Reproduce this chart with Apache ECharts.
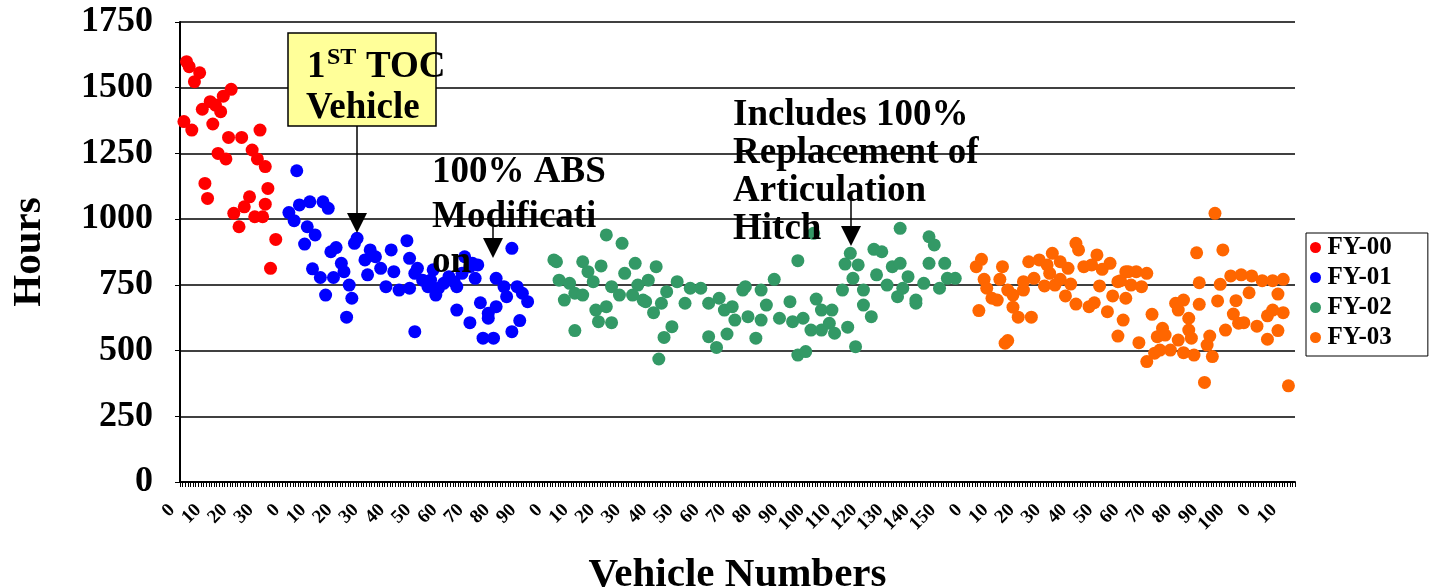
<!DOCTYPE html>
<html>
<head>
<meta charset="utf-8">
<script src="https://cdn.jsdelivr.net/npm/echarts@6/dist/echarts.min.js"></script>
<style>
html,body{margin:0;padding:0;background:#fff;}
#chart{width:1432px;height:588px;}
</style>
</head>
<body>
<div id="chart"></div>
<script>
// Vehicles per label block on the x axis (labels restart at 0 in each block)
const categoryGroups = [40, 100, 160, 110, 15];
const labelEvery = 10;
const seriesNames = ['FY-00', 'FY-01', 'FY-02', 'FY-03'];
const seriesColors = ['#FF0000', '#0000FF', '#339966', '#FF6600'];
const yMin = 0, yMax = 1750, yStep = 250;

// [category position, hours]
const fy00 = [[1,1371],[2,1599],[3,1580],[4,1339],[5,1523],[7,1557],[8,1418],[9,1136],[10,1079],[11,1447],[12,1362],[13,1434],[14,1250],[15,1409],[16,1468],[17,1229],[18,1311],[19,1494],[20,1022],[22,971],[23,1311],[24,1047],[26,1085],[27,1263],[28,1009],[29,1229],[30,1339],[31,1009],[32,1057],[32,1200],[33,1117],[34,813],[36,923]];

const fy01 = [[41,1025],[43,994],[44,1184],[45,1054],[47,905],[48,971],[49,1066],[50,811],[51,940],[53,778],[54,1066],[55,711],[56,1041],[57,876],[58,778],[59,892],[61,832],[62,800],[63,627],[64,749],[65,699],[66,908],[67,927],[70,845],[71,788],[72,883],[74,857],[76,813],[78,743],[80,883],[81,800],[83,730],[86,918],[87,737],[87,851],[89,572],[89,794],[90,813],[92,768],[94,743],[95,768],[96,807],[97,711],[98,737],[100,756],[102,781],[104,762],[105,743],[105,654],[107,794],[108,857],[110,819],[110,606],[111,832],[112,775],[113,826],[114,682],[115,547],[117,642],[117,623],[119,547],[120,667],[120,775],[123,743],[124,705],[126,572],[126,889],[128,743],[129,614],[130,718],[132,686]];

const fy02 = [[142,845],[143,838],[144,768],[146,692],[148,756],[150,576],[150,718],[153,711],[153,838],[155,800],[157,762],[158,654],[159,610],[160,822],[162,667],[162,940],[164,606],[164,743],[167,711],[168,908],[169,794],[172,711],[173,832],[174,749],[176,692],[177,686],[178,768],[180,644],[181,819],[182,468],[183,680],[184,550],[185,724],[187,591],[189,762],[192,680],[194,737],[198,737],[201,680],[201,553],[204,512],[205,699],[207,654],[208,563],[210,667],[211,616],[214,730],[215,743],[216,629],[219,547],[221,730],[221,616],[223,673],[226,771],[228,623],[232,686],[233,610],[235,842],[235,483],[237,623],[238,496],[240,578],[241,946],[242,696],[244,578],[244,654],[247,604],[248,654],[249,566],[252,730],[253,829],[254,589],[255,870],[256,775],[257,515],[258,826],[260,730],[260,673],[263,629],[264,885],[265,788],[267,876],[269,749],[271,819],[273,705],[274,832],[274,965],[275,737],[277,781],[280,692],[280,680],[283,756],[285,832],[285,933],[287,902],[289,737],[291,832],[292,775],[295,775]];

const fy03 = [[303,819],[304,652],[305,847],[306,771],[307,737],[309,699],[311,692],[312,771],[313,819],[314,528],[315,730],[315,538],[317,665],[317,711],[319,627],[321,730],[321,762],[323,838],[324,627],[325,775],[327,845],[329,746],[330,826],[331,794],[332,870],[333,749],[335,838],[335,771],[337,708],[338,813],[339,753],[341,677],[341,908],[342,883],[344,819],[346,667],[347,826],[348,682],[349,864],[350,746],[351,809],[353,648],[354,832],[355,708],[357,762],[357,555],[358,766],[359,616],[360,800],[360,699],[361,800],[362,749],[364,800],[365,530],[366,743],[368,458],[368,794],[370,638],[371,490],[372,553],[373,502],[374,585],[375,559],[377,502],[379,680],[380,654],[380,540],[382,692],[382,492],[384,623],[384,578],[385,547],[386,483],[387,872],[388,676],[388,758],[390,379],[391,521],[392,555],[393,477],[394,1022],[395,689],[396,752],[397,883],[398,578],[400,784],[401,639],[402,690],[403,604],[404,788],[405,606],[407,720],[408,784],[410,593],[412,766],[414,632],[414,543],[416,654],[416,766],[418,715],[418,576],[420,771],[420,644],[422,366]];

const seriesData = [fy00, fy01, fy02, fy03];

// Category labels: vehicle numbers restart in each block; every 10th category is labelled
const categories = [];
categoryGroups.forEach(n => { for (let i = 0; i < n; i++) categories.push(String(i)); });

const FONT = "'Liberation Serif','Times New Roman',serif";
const chart = echarts.init(document.getElementById('chart'), null, {renderer: 'canvas'});

function arrow(x, y1, y2) {
  return [
    {type: 'line', shape: {x1: x, y1: y1, x2: x, y2: y2 - 18}, style: {stroke: '#000', lineWidth: 1.5}, z: 100},
    {type: 'polygon', shape: {points: [[x - 10, y2 - 20], [x + 10, y2 - 20], [x, y2]]}, style: {fill: '#000'}, z: 100}
  ];
}

const graphics = [
  {type: 'rect', shape: {x: 288, y: 33, width: 148, height: 93}, style: {fill: '#FFFF99', stroke: '#000', lineWidth: 1.5}, z: 99},
  {type: 'text', x: 307, y: 67, style: {text: '1', font: 'bold 37px ' + FONT, fill: '#000', align: 'left', verticalAlign: 'middle'}, z: 101},
  {type: 'text', x: 327, y: 58, style: {text: 'ST', font: 'bold 24px ' + FONT, fill: '#000', align: 'left', verticalAlign: 'middle'}, z: 101},
  {type: 'text', x: 366, y: 67, style: {text: 'TOC', font: 'bold 37px ' + FONT, fill: '#000', align: 'left', verticalAlign: 'middle'}, z: 101},
  {type: 'text', x: 306, y: 108, style: {text: 'Vehicle', font: 'bold 37px ' + FONT, fill: '#000', align: 'left', verticalAlign: 'middle'}, z: 101},
  {type: 'text', x: 432, y: 150, style: {text: '100% ABS\nModificati\non', font: 'bold 37px ' + FONT, lineHeight: 45, fill: '#000', align: 'left', verticalAlign: 'top'}, z: 101},
  {type: 'text', x: 733, y: 96, style: {text: 'Includes 100%\nReplacement of\nArticulation\nHitch', font: 'bold 37px ' + FONT, lineHeight: 38, fill: '#000', align: 'left', verticalAlign: 'top'}, z: 101}
].concat(arrow(357, 126, 233), arrow(493, 218, 258), arrow(851, 195, 246));

chart.setOption({
  animation: false,
  backgroundColor: '#fff',
  grid: {left: 180, right: 137, top: 22, bottom: 106, containLabel: false, outerBoundsMode: 'none'},
  legend: {
    orient: 'vertical', left: 1306, top: 233,
    padding: [2, 36, 6, 4], itemGap: 5, itemWidth: 14, itemHeight: 11,
    borderColor: '#000', borderWidth: 1, backgroundColor: '#fff',
    icon: 'circle',
    textStyle: {fontFamily: FONT, fontWeight: 'bold', fontSize: 25, color: '#000'},
    data: seriesNames
  },
  xAxis: {
    type: 'category', data: categories, boundaryGap: true,
    name: 'Vehicle Numbers', nameLocation: 'middle', nameGap: 73,
    nameTextStyle: {fontFamily: FONT, fontWeight: 'bold', fontSize: 41, color: '#000'},
    axisLine: {lineStyle: {color: '#000', width: 2}},
    axisTick: {show: true, interval: 0, length: 5, lineStyle: {color: '#000', width: 1}},
    axisLabel: {
      interval: 0,
      formatter: (value, index) => (index % labelEvery === 0 ? value : ''),
      rotate: 45, margin: 16, padding: [0, 13, 0, 0],
      fontFamily: FONT, fontWeight: 'bold', fontSize: 19, color: '#000'
    },
    splitLine: {show: false}
  },
  yAxis: {
    type: 'value', min: yMin, max: yMax, interval: yStep,
    name: 'Hours', nameLocation: 'middle', nameGap: 130,
    nameTextStyle: {fontFamily: FONT, fontWeight: 'bold', fontSize: 41, color: '#000'},
    axisLine: {show: true, lineStyle: {color: '#000', width: 2}},
    axisTick: {show: true, length: 5, lineStyle: {color: '#000'}},
    axisLabel: {margin: 27, formatter: v => String(v), fontFamily: FONT, fontWeight: 'bold', fontSize: 36, color: '#000'},
    splitLine: {show: true, lineStyle: {color: '#000', width: 1.5}}
  },
  series: seriesNames.map((name, k) => ({
    name: name, type: 'scatter', data: seriesData[k],
    symbol: 'circle', symbolSize: 13,
    itemStyle: {color: seriesColors[k], opacity: 1},
    emphasis: {disabled: true}
  })),
  graphic: graphics
});
</script>
</body>
</html>
